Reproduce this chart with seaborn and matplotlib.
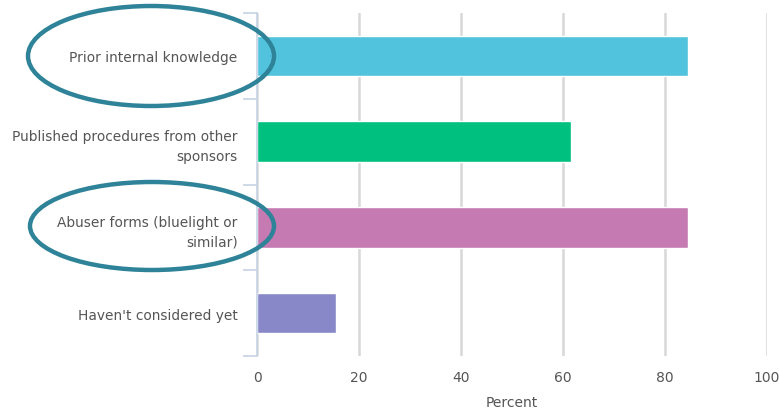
import matplotlib
matplotlib.use("Agg")
import matplotlib.pyplot as plt
import seaborn as sns
import pandas as pd
from matplotlib.patches import Ellipse
from matplotlib.ticker import FixedLocator

categories = ["Prior internal knowledge",
              "Published procedures from other\nsponsors",
              "Abuser forms (bluelight or\nsimilar)",
              "Haven't considered yet"]
values = [84.6, 61.5, 84.6, 15.4]
colors = ["#52C3DC", "#00C07F", "#C57BB2", "#8888C8"]
xticks = [0, 20, 40, 60, 80, 100]

sns.set_style("white")
plt.rcParams['font.family'] = ['DejaVu Sans']

df = pd.DataFrame({"cat": categories, "val": values})

fig = plt.figure(figsize=(7.79, 4.14), dpi=100)
ax = fig.add_axes([257/779, 1-357/414, (767-257)/779, (357-14)/414])

sns.barplot(data=df, y="cat", x="val", hue="cat", palette=colors, orient="h",
            width=0.47, ax=ax, legend=False, saturation=1, zorder=3)

ax.set_xlim(0, 100)
ax.set_ylim(3.5, -0.5)
ax.set_xticks(xticks)
ax.xaxis.grid(True, color="#D8D8D8", linewidth=1.8, zorder=0)
ax.set_axisbelow(True)
for s in ["top", "right", "bottom"]:
    ax.spines[s].set_visible(False)
ax.spines["left"].set_color("#C5D3E3")
ax.spines["left"].set_linewidth(1.2)
ax.spines["left"].set_zorder(4)

ax.tick_params(axis="x", length=0, pad=10, labelsize=10, labelcolor="#555555")
ax.tick_params(axis="y", which="major", length=0, pad=14, labelsize=9.9, labelcolor="#555555")
for lbl in ax.get_yticklabels():
    lbl.set_linespacing(1.55)
ax.yaxis.set_minor_locator(FixedLocator([-0.5, 0.5, 1.5, 2.5, 3.5]))
ax.tick_params(axis="y", which="minor", length=10, width=1.2, color="#C5D3E3", left=True)

ax.set_ylabel("")
ax.set_xlabel("Percent", fontsize=10, color="#555555", labelpad=8)

# annotation ellipses (figure pixel coordinates converted to fractions)
W, H = 779, 414
for cx, cy, w, h in [(151, 57, 246, 100), (152, 227, 244, 88)]:
    e = Ellipse((cx / W, 1 - cy / H), w / W, h / H, transform=fig.transFigure,
                fill=False, edgecolor="#2F8399", linewidth=3.2, zorder=10)
    fig.patches.append(e)

fig.savefig("out.png", dpi=100)
